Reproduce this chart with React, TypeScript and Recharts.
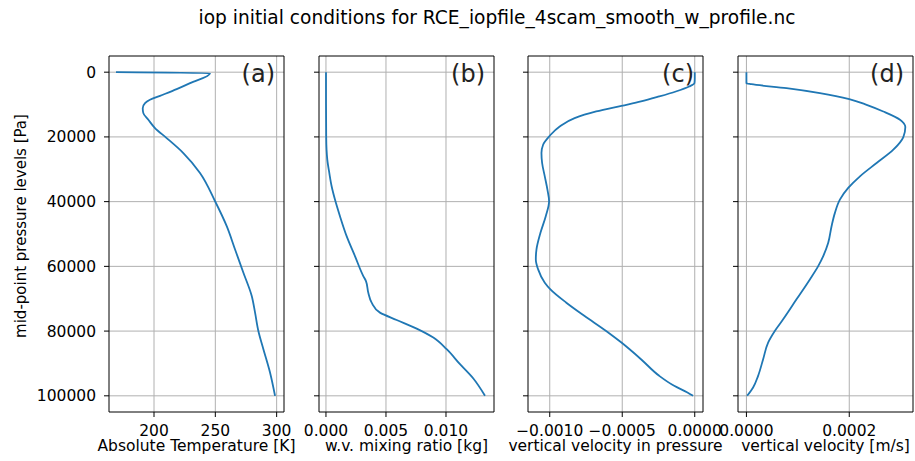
import React from 'react';
import { LineChart, Line, XAxis, YAxis, CartesianGrid, ReferenceArea } from 'recharts';

// Panel (a): absolute temperature [K]
const P_T = [0, 300, 3400, 5251, 7306, 8539, 9566, 11107, 12649, 14704, 17273, 20355, 24980, 31145, 39880, 47586, 54778, 61971, 69165, 74300, 79953, 85605, 92797, 100000];
const T = [169, 245.7, 229.4, 218.5, 204.9, 196.7, 192.7, 190.8, 191.3, 195.4, 200.8, 210.3, 223.9, 237.5, 249.8, 259.3, 266.1, 272.9, 279.7, 282.4, 285.1, 289.2, 294.6, 298.7];

// Panel (b): water vapour mixing ratio [kg]
const P_Q = [0, 10000, 20000, 23950, 27034, 31144, 35255, 39365, 44503, 50668, 56834, 62999, 64540, 68140, 71218, 74300, 76563, 79233, 82008, 85604, 90228, 94646, 100000];
const Q = [0.000003, 0.000005, 0.00002, 0.00005, 0.000111, 0.000278, 0.000472, 0.00075, 0.001167, 0.001722, 0.002417, 0.003111, 0.003333, 0.003528, 0.003806, 0.0045, 0.005889, 0.007556, 0.008944, 0.010056, 0.011167, 0.012278, 0.01325];

// Panel (c): vertical velocity in pressure [Pa/s]
const P_OMEGA = [0, 2000, 3400, 4429, 5970, 7511, 9052, 10388, 12135, 14190, 16759, 19636, 22410, 24979, 28062, 32172, 36283, 39879, 44503, 49641, 54778, 57860, 60943, 65052, 67108, 71218, 75330, 79953, 83548, 88686, 93825, 96907, 98961, 100000];
const OMEGA = [0, 0, -0.000002, -0.0000389, -0.0001304, -0.0002449, -0.0003707, -0.0005057, -0.0006796, -0.0008284, -0.0009314, -0.001, -0.0010458, -0.0010572, -0.0010526, -0.0010343, -0.001016, -0.0010046, -0.0010275, -0.0010641, -0.0010915, -0.0010961, -0.0010801, -0.0010343, -0.0009954, -0.0008856, -0.0007597, -0.000611, -0.0005057, -0.0003707, -0.0002449, -0.0001419, -0.0000503, -0.0000114];

// Panel (d): vertical velocity [m/s]
const P_W = [0, 2000, 3401, 3710, 4943, 6484, 8334, 10080, 12135, 14704, 16965, 20047, 23950, 28062, 32172, 35769, 39365, 43476, 47586, 52722, 56834, 59916, 64026, 70191, 76357, 79953, 83548, 88686, 93825, 97420, 100000];
const W = [0, 0, 0, 0.0000097, 0.0000779, 0.0001429, 0.0002, 0.0002338, 0.0002662, 0.0002987, 0.0003091, 0.0003052, 0.0002857, 0.0002532, 0.0002208, 0.000198, 0.0001818, 0.0001721, 0.0001656, 0.0001591, 0.0001494, 0.0001396, 0.0001234, 0.0000974, 0.0000714, 0.0000552, 0.0000422, 0.0000325, 0.0000227, 0.000013, 0.0000013];

const P_TICKS = [0, 20000, 40000, 60000, 80000, 100000];
const T_TICKS = [200, 250, 300];
const Q_TICKS = [0, 0.005, 0.01];
const OMEGA_TICKS = [-0.001, -0.0005, 0];
const W_TICKS = [0, 0.0002];

const TITLE = 'iop initial conditions for RCE_iopfile_4scam_smooth_w_profile.nc';
const Y_LABEL = 'mid-point pressure levels [Pa]';

const FONT = '"DejaVu Sans", sans-serif';
const BLUE = '#1f77b4';
const TICK_FS = 15.5;
const P_DOMAIN: [number, number] = [-5000, 105000];

const fmtMinus = (s: string) => s.replace('-', '\u2212');

type PanelDef = {
  tag: string;
  ps: number[];
  vs: number[];
  domain: [number, number];
  ticks: number[];
  fmt: (v: number) => string;
  xlabel: string;
  left: number;
};

const panels: PanelDef[] = [
  { tag: '(a)', ps: P_T, vs: T, domain: [163.3, 306.0], ticks: T_TICKS, fmt: (v) => String(v), xlabel: 'Absolute Temperature [K]', left: 109 },
  { tag: '(b)', ps: P_Q, vs: Q, domain: [-0.00058, 0.014], ticks: Q_TICKS, fmt: (v) => v.toFixed(3), xlabel: 'w.v. mixing ratio [kg]', left: 319 },
  { tag: '(c)', ps: P_OMEGA, vs: OMEGA, domain: [-0.00115, 0.000057], ticks: OMEGA_TICKS, fmt: (v) => fmtMinus(v.toFixed(4)), xlabel: 'vertical velocity in pressure', left: 528 },
  { tag: '(d)', ps: P_W, vs: W, domain: [-0.0000164, 0.000324], ticks: W_TICKS, fmt: (v) => v.toFixed(4), xlabel: 'vertical velocity [m/s]', left: 738 },
];

const PLOT_TOP = 56;
const PLOT_H = 356;
const PLOT_W = 175;
const CHART_H = 461;
const SIDE = 40;

function Panel({ def, first }: { def: PanelDef; first: boolean }) {
  const data = def.ps.map((p, i) => ({ p, v: def.vs[i] }));
  const yw = first ? def.left : 10;
  const ml = first ? 0 : SIDE;
  const chartLeft = def.left - yw - ml;
  const width = ml + yw + PLOT_W + SIDE;
  return (
    <div style={{ position: 'absolute', left: chartLeft, top: 0 }}>
      <LineChart
        width={width}
        height={CHART_H}
        data={data}
        layout="vertical"
        margin={{ top: PLOT_TOP, right: SIDE, bottom: 0, left: ml }}
        style={{ fontFamily: FONT }}
      >
        <CartesianGrid stroke="#b0b0b0" strokeWidth={1} verticalValues={def.ticks} horizontalValues={P_TICKS} />
        <XAxis
          type="number"
          dataKey="v"
          domain={def.domain}
          allowDataOverflow
          ticks={def.ticks}
          tickFormatter={def.fmt}
          interval={0}
          axisLine={false}
          tickLine={{ stroke: '#000' }}
          tickSize={5}
          tickMargin={8}
          height={CHART_H - PLOT_TOP - PLOT_H}
          tick={{ fill: '#000', fontSize: TICK_FS, fontFamily: FONT }}
          label={{ value: def.xlabel, position: 'insideBottom', offset: 10, fill: '#000', fontSize: TICK_FS, fontFamily: FONT }}
        />
        <YAxis
          type="number"
          dataKey="p"
          domain={P_DOMAIN}
          allowDataOverflow
          ticks={P_TICKS}
          interval={0}
          width={yw}
          axisLine={false}
          tickLine={{ stroke: '#000' }}
          tickSize={5}
          tickMargin={8}
          tickFormatter={first ? (v: number) => String(v) : () => ''}
          tick={{ fill: '#000', fontSize: TICK_FS, fontFamily: FONT }}
        />
        <ReferenceArea
          x1={def.domain[0]}
          x2={def.domain[1]}
          y1={P_DOMAIN[0]}
          y2={P_DOMAIN[1]}
          ifOverflow="visible"
          fill="#fff"
          fillOpacity={0}
          stroke="#000"
          strokeOpacity={1}
          strokeWidth={1}
          label={{ value: def.tag, position: 'insideTopRight', offset: 9, fill: '#222', fontSize: 24, fontFamily: FONT }}
        />
        <Line
          dataKey="v"
          type="monotone"
          stroke={BLUE}
          strokeWidth={1.8}
          dot={false}
          isAnimationActive={false}
        />
      </LineChart>
    </div>
  );
}

export default function App() {
  return (
    <div style={{ position: 'absolute', left: 0, top: 0, width: 915, height: 461, overflow: 'hidden', background: '#fff', fontFamily: FONT }}>
      <div
        style={{
          position: 'absolute',
          left: 497,
          top: 17,
          transform: 'translate(-50%, -50%)',
          whiteSpace: 'nowrap',
          fontSize: 18.6,
          color: '#000',
        }}
      >
        {TITLE}
      </div>
      <div
        style={{
          position: 'absolute',
          left: 20.8,
          top: 226,
          transform: 'translate(-50%, -50%) rotate(-90deg)',
          whiteSpace: 'nowrap',
          fontSize: 15,
          color: '#000',
        }}
      >
        {Y_LABEL}
      </div>
      {panels.map((d, i) => (
        <Panel key={d.tag} def={d} first={i === 0} />
      ))}
    </div>
  );
}
